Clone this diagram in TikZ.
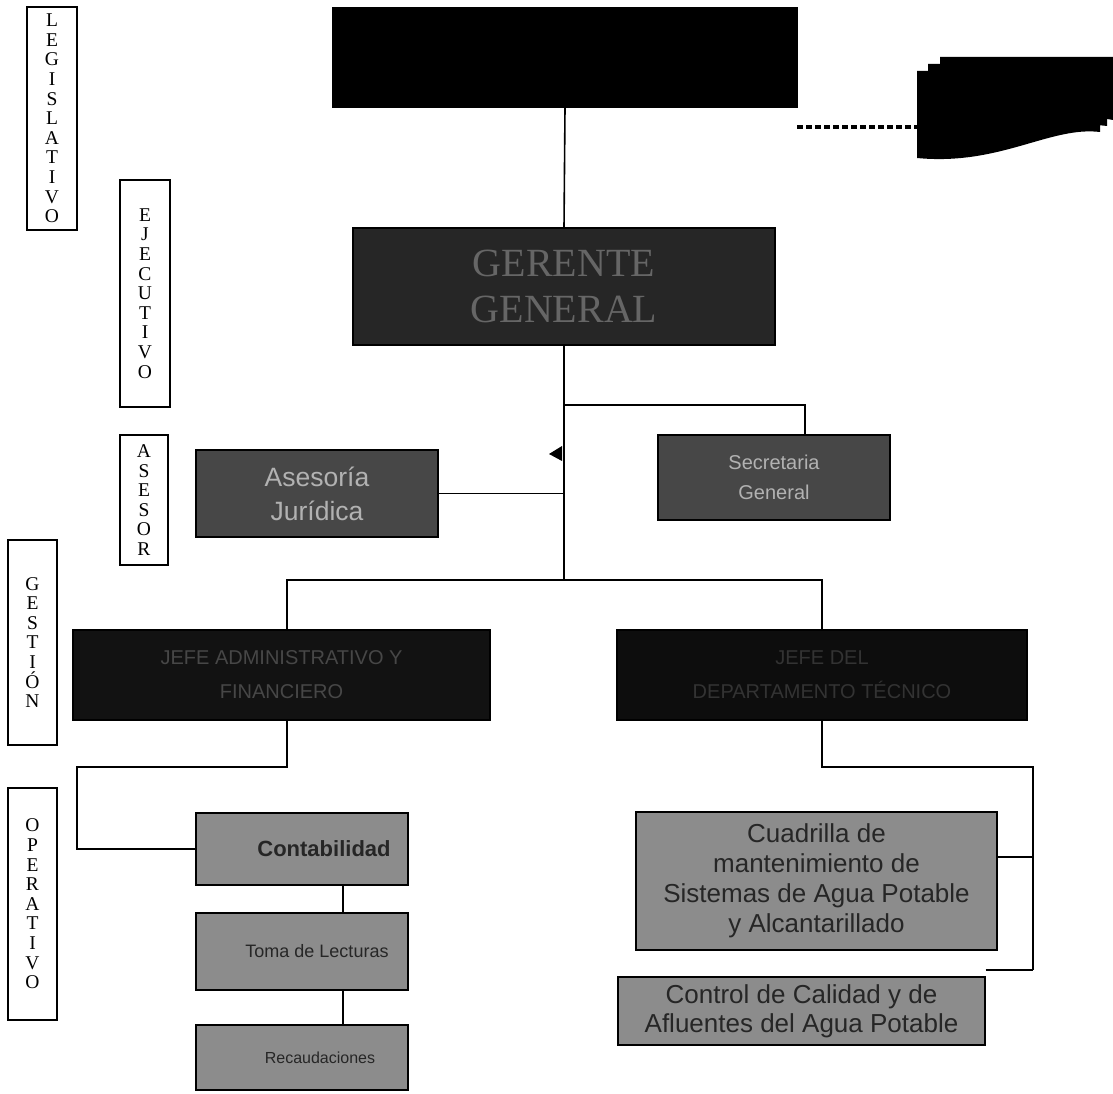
\documentclass[tikz,border=0pt]{standalone}
\usepackage{fontspec}
\setmainfont{Liberation Serif}
\setsansfont{Liberation Sans}
\begin{document}
\begin{tikzpicture}[x=1pt,y=-1pt,
  lvl/.style={draw=black, line width=1.1pt, fill=white, inner sep=0pt, align=center,
    font=\fontsize{19.5}{19.6}\selectfont},
  box/.style={draw=black, line width=1.3pt, inner sep=0pt, align=center},
  darkbox/.style={box, fill=black!88, text=black!60},
  midbox/.style={box, fill=black!72, text=black!30},
  opbox/.style={box, fill=black!45, text=black!85},
  conn/.style={line width=1.6pt}]
\useasboundingbox (0,0) rectangle (1113,1094);
% level labels
\node[lvl, minimum width=50, minimum height=223] (leg) at (52,118.5) {L\\E\\G\\I\\S\\L\\A\\T\\I\\V\\O};
\node[lvl, minimum width=50, minimum height=227] (eje) at (145,293.5) {E\\J\\E\\C\\U\\T\\I\\V\\O};
\node[lvl, minimum width=48, minimum height=130] (ase) at (144,500) {A\\S\\E\\S\\O\\R};
\node[lvl, minimum width=49, minimum height=205] (ges) at (32.5,642.5) {G\\E\\S\\T\\I\\Ó\\N};
\node[lvl, minimum width=49, minimum height=232] (ope) at (32.5,904) {O\\P\\E\\R\\A\\T\\I\\V\\O};
% top box
\node[box, fill=black, minimum width=464, minimum height=99] (top) at (565,57.5) {};
% stacked document shape
\fill[black] (940,57) -- (1113,57) -- (1113,120) .. controls (1075,112) and (1040,140) .. (940,140) -- cycle;
\fill[black] (928,64) -- (1107,64) -- (1107,126) .. controls (1065,120) and (1020,152) .. (928,150) -- cycle;
\fill[black] (917,71) -- (1100,71) -- (1100,132) .. controls (1050,126) and (1000,166) .. (917,158) -- cycle;
\coordinate (doc) at (917,127);
\coordinate (dl) at (797,127);
\draw[line width=4.5pt, dash pattern=on 6pt off 3pt] (dl) -- (doc);
% gerencia
\node[darkbox, fill=black!85, text=black!60, minimum width=422, minimum height=117,
  font=\fontsize{40}{46}\selectfont] (ger) at (564,286.5) {GERENTE\\GENERAL};
% asesor level
\node[midbox, minimum width=242, minimum height=87, font=\sffamily\fontsize{26.5}{34}\selectfont] (asj) at (317,493.5) {Asesoría\\Jurídica};
\node[midbox, minimum width=232, minimum height=85, font=\sffamily\fontsize{20}{30}\selectfont] (sec) at (774,477.5) {Secretaria\\General};
% gestion level
\node[darkbox, fill=black!93, text=black!72, minimum width=417, minimum height=90, font=\sffamily\fontsize{20}{34}\selectfont] (jad) at (281.5,675) {JEFE ADMINISTRATIVO Y\\FINANCIERO};
\node[darkbox, fill=black!95, text=black!80, minimum width=410, minimum height=90, font=\sffamily\fontsize{20}{34}\selectfont] (jte) at (822,675) {JEFE DEL\\DEPARTAMENTO TÉCNICO};
% operative
\node[opbox, minimum width=212, minimum height=72, font=\sffamily\bfseries\fontsize{22}{24}\selectfont] (con) at (302,849) {\hspace*{44pt}Contabilidad};
\node[opbox, minimum width=212, minimum height=77, font=\sffamily\fontsize{18}{20}\selectfont] (tom) at (302,951.5) {\hspace*{30pt}Toma de Lecturas};
\node[opbox, minimum width=212, minimum height=65, font=\sffamily\fontsize{16}{18}\selectfont] (rec) at (302,1057.5) {\hspace*{36pt}Recaudaciones};
\node[opbox, minimum width=361, minimum height=138, font=\sffamily\fontsize{26}{30}\selectfont] (cua) at (816.5,881) {Cuadrilla de\\mantenimiento de\\Sistemas de Agua Potable\\y Alcantarillado};
\node[opbox, minimum width=367, minimum height=68, font=\sffamily\fontsize{26}{29}\selectfont] (ctl) at (801.5,1011) {Control de Calidad y de\\Afluentes del Agua Potable};
% connectors
\coordinate (trunk) at (564,580);
\coordinate (lb) at (77,767);
\coordinate (rv) at (1033,767);
\coordinate (rb) at (1033,970);
\draw[conn] (top.south) -- (ger.north);
\draw[conn] (ger.south) -- (trunk);
\draw[conn] (ger.south |- 0,405) -| (sec.north -| 805,0);
\draw[conn] (asj.east) -- (asj.east -| trunk);
\draw[conn] (jad.north -| 287,0) |- (trunk) -| (jte.north);
\fill[black] (549,454) -- (562,446) -- (562,461) -- cycle;
\draw[conn] (jad.south -| 287,0) |- (lb) |- (con.west);
\draw[conn] (con.south -| 343,0) -- (tom.north -| 343,0);
\draw[conn] (tom.south -| 343,0) -- (rec.north -| 343,0);
\draw[conn] (jte.south) |- (rv) -- (rb);
\draw[conn] (cua.east |- 0,857) -- (rv |- 0,857);
\draw[conn] (ctl.east |- rb) -- (rb);
\end{tikzpicture}
\end{document}
